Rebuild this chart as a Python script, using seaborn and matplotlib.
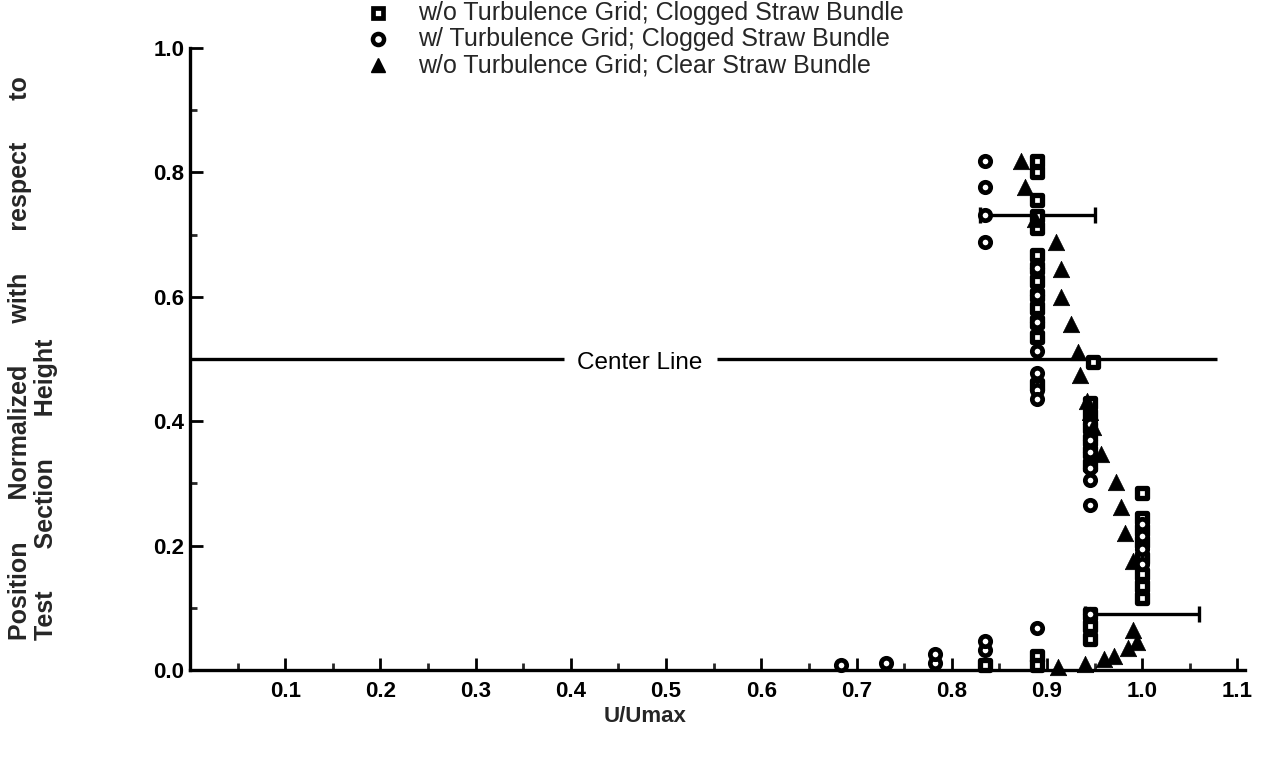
import matplotlib
matplotlib.use("Agg")
import matplotlib.pyplot as plt
import seaborn as sns
import numpy as np
from matplotlib.lines import Line2D

sns.set_theme(style="ticks")
plt.rcParams['font.family'] = ['Liberation Sans', 'DejaVu Sans']

# ---- data (U/Umax, normalized position) ----
sq_u = [0.89, 0.89, 0.89, 0.89, 0.89, 0.89, 0.89, 0.89, 0.89, 0.89, 0.89, 0.89, 0.89,
        0.948, 0.945, 0.945, 0.945, 0.945, 0.945, 0.945,
        1.0, 1.0, 1.0, 1.0, 1.0, 1.0, 1.0, 1.0,
        0.945, 0.945, 0.945,
        0.835, 0.89, 0.89]
sq_y = [0.818, 0.80, 0.755, 0.73, 0.71, 0.667, 0.646, 0.625, 0.603, 0.582, 0.56, 0.536, 0.458,
        0.495, 0.43, 0.41, 0.39, 0.37, 0.35, 0.33,
        0.285, 0.245, 0.225, 0.205, 0.18, 0.155, 0.135, 0.115,
        0.09, 0.07, 0.05,
        0.008, 0.022, 0.008]

ci_u = [0.835, 0.835, 0.835, 0.835,
        0.89, 0.89, 0.89, 0.89, 0.89, 0.89, 0.89,
        0.945, 0.945, 0.945, 0.945, 0.945, 0.945, 0.945,
        1.0, 1.0, 1.0, 1.0,
        0.684, 0.731, 0.782, 0.782, 0.835, 0.835, 0.89]
ci_y = [0.818, 0.776, 0.731, 0.688,
        0.646, 0.603, 0.56, 0.513, 0.477, 0.45, 0.435,
        0.395, 0.37, 0.35, 0.325, 0.305, 0.265, 0.09,
        0.235, 0.215, 0.195, 0.17,
        0.008, 0.012, 0.012, 0.026, 0.032, 0.046, 0.068]

tr_u = [0.873, 0.877, 0.887, 0.91, 0.915, 0.915, 0.925, 0.933, 0.935, 0.942, 0.945,
        0.948, 0.957, 0.972, 0.978, 0.982, 0.99, 0.99, 0.995, 0.985, 0.97, 0.96, 0.94, 0.912]
tr_y = [0.818, 0.776, 0.725, 0.688, 0.645, 0.60, 0.556, 0.511, 0.474, 0.432, 0.415,
        0.39, 0.348, 0.303, 0.262, 0.22, 0.175, 0.065, 0.045, 0.035, 0.022, 0.018, 0.01, 0.005]

eb_u = [0.89, 1.0]
eb_y = [0.731, 0.09]
eb_err = [0.06, 0.06]

series_labels = ["w/o Turbulence Grid; Clogged Straw Bundle",
                 "w/ Turbulence Grid; Clogged Straw Bundle",
                 "w/o Turbulence Grid; Clear Straw Bundle"]
x_ticks = [0.1, 0.2, 0.3, 0.4, 0.5, 0.6, 0.7, 0.8, 0.9, 1.0, 1.1]
y_ticks = [0.0, 0.2, 0.4, 0.6, 0.8, 1.0]
center_y = 0.5

# ---- figure ----
W, H = 1282, 759
fig = plt.figure(figsize=(W / 100, H / 100), dpi=100)
ax = fig.add_axes([190 / W, 1 - 670 / H, (1245 - 190) / W, (670 - 48) / H])

# center line with label gap
ax.plot([0, 0.393], [center_y, center_y], color='black', lw=2.4, solid_capstyle='butt')
ax.plot([0.553, 1.079], [center_y, center_y], color='black', lw=2.4, solid_capstyle='butt')
ax.text(0.472, center_y - 0.006, "Center Line", ha='center', va='center', fontsize=17.5, color='black')

# error bars
ax.errorbar(eb_u, eb_y, xerr=eb_err, fmt='none', ecolor='black', elinewidth=2.4,
            capsize=6, capthick=2.4, zorder=2)

sns.scatterplot(x=sq_u, y=sq_y, marker='s', s=42, facecolor='white', edgecolor='black',
                linewidth=3.8, ax=ax, clip_on=False, zorder=4)
sns.scatterplot(x=ci_u, y=ci_y, marker='o', s=56, facecolor='white', edgecolor='black',
                linewidth=3.4, ax=ax, clip_on=False, zorder=4)
sns.scatterplot(x=tr_u, y=tr_y, marker='^', s=140, facecolor='black', edgecolor='black',
                linewidth=0.5, ax=ax, clip_on=False, zorder=4)

ax.set_xlim(0, 1.108)
ax.set_ylim(0, 1.0)
ax.set_xticks(x_ticks)
ax.set_xticklabels([f"{v:.1f}" for v in x_ticks])
ax.set_xticks(np.arange(0.05, 1.1, 0.1), minor=True)
ax.set_yticks(y_ticks)
ax.set_yticklabels([f"{v:.1f}" for v in y_ticks])
ax.set_yticks(np.arange(0.1, 1.0, 0.2), minor=True)
ax.tick_params(which='major', direction='in', length=9, width=2, labelsize=16, colors='black')
ax.tick_params(axis='x', which='major', pad=8)
ax.tick_params(axis='y', which='major', pad=4)
ax.tick_params(which='minor', direction='in', length=5, width=2)
for lab in ax.get_xticklabels() + ax.get_yticklabels():
    lab.set_fontweight('bold')
sns.despine(ax=ax)
for s in ['left', 'bottom']:
    ax.spines[s].set_linewidth(2.4)
    ax.spines[s].set_color('black')

ax.set_xlabel("U/Umax", fontsize=16, fontweight='bold')
ax.xaxis.set_label_coords((645 - 190) / (1245 - 190), -(717 - 670) / (670 - 48))
ax.xaxis.label.set_va('center')

# y label, two left-aligned rotated lines with wide word spacing
gap = " " * 6
fig.text(20 / W, 1 - 640 / H, gap.join(["Position", "Normalized", "with", "respect", "to"]),
         rotation=90, ha='center', va='bottom', fontsize=18, fontweight='bold')
fig.text(46 / W, 1 - 640 / H, gap.join(["Test", "Section", "Height"]), rotation=90,
         ha='center', va='bottom', fontsize=18, fontweight='bold')

# legend (drawn at the top of the figure)
leg_markers = [dict(marker='s', ms=7.5, mfc='white', mec='black', mew=3.4),
               dict(marker='o', ms=8, mfc='white', mec='black', mew=3.2),
               dict(marker='^', ms=10.5, mfc='black', mec='black')]
row_y = [13, 39, 65]
for yy, lab, mk in zip(row_y, series_labels, leg_markers):
    fig.add_artist(Line2D([378 / W], [1 - yy / H], ls='none', transform=fig.transFigure, **mk))
    fig.text(418 / W, 1 - (yy + 7) / H, lab, ha='left', va='baseline', fontsize=18)

fig.savefig("out.png", dpi=100, facecolor='white')
